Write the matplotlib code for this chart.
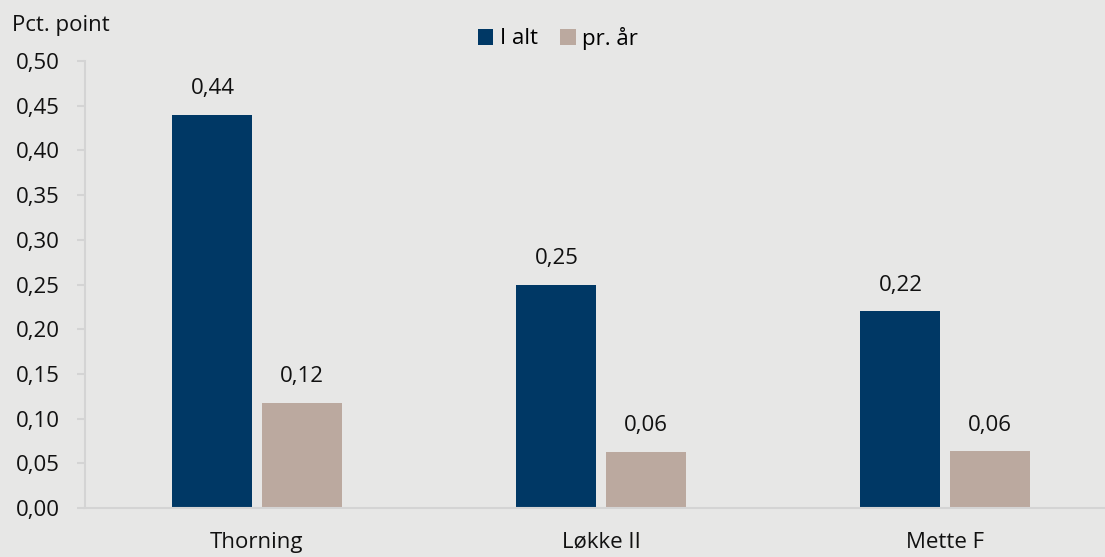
import matplotlib.pyplot as plt
import numpy as np

categories = ["Thorning", "Løkke II", "Mette F"]
i_alt = [0.44, 0.25, 0.22]
pr_aar = [0.118, 0.063, 0.064]
series_names = ["I alt", "pr. år"]
y_ticks = [0.0, 0.05, 0.10, 0.15, 0.20, 0.25, 0.30, 0.35, 0.40, 0.45, 0.50]

bg = "#e7e7e6"
dark = "#003865"
light = "#bba99f"
axis_grey = "#d4d4d4"
txt = "#111111"
fs = 16

plt.rcParams['font.family'] = ['Open Sans', 'DejaVu Sans']

fig = plt.figure(figsize=(11.05, 5.57), dpi=100, facecolor=bg)
# axes spans past the right edge, as the category band continues off-canvas
ax = fig.add_axes([85 / 1105, 49 / 557, 1032 / 1105, 447 / 557])
ax.set_facecolor(bg)

x = np.arange(len(categories))
w = 0.2326
off = 0.1294
b1 = ax.bar(x - off, i_alt, w, color=dark, label=series_names[0])
b2 = ax.bar(x + off, pr_aar, w, color=light, label=series_names[1])

fmt = lambda v: f"{v:.2f}".replace(".", ",")
for bars, vals in ((b1, i_alt), (b2, pr_aar)):
    for r, v in zip(bars, vals):
        ax.annotate(fmt(v), (r.get_x() + r.get_width() / 2, v),
                    xytext=(0, 11), textcoords="offset points",
                    ha="center", va="bottom", fontsize=fs, color=txt)

ax.set_xlim(-0.5, 2.5)
ax.set_ylim(0, 0.5)
ax.set_yticks(y_ticks)
ax.set_yticklabels([fmt(t) for t in y_ticks])
ax.set_xticks(x)
ax.set_xticklabels(categories)

for s in ("top", "right"):
    ax.spines[s].set_visible(False)
for s in ("left", "bottom"):
    ax.spines[s].set_color(axis_grey)
    ax.spines[s].set_linewidth(1.5)

ax.tick_params(axis="y", length=6, width=1.5, color=axis_grey, pad=12,
               labelsize=fs, labelcolor=txt)
ax.tick_params(axis="x", length=0, pad=17, labelsize=fs, labelcolor=txt)

fig.text(12 / 1105, 1 - 25 / 557, "Pct. point", fontsize=fs, color=txt,
         ha="left", va="center")

fig.legend(loc="center", bbox_to_anchor=(558 / 1105, 1 - 38 / 557), ncol=2,
           frameon=False, fontsize=fs, handlelength=0.7, handleheight=0.7,
           handletextpad=0.3, columnspacing=1.0)

fig.savefig("out.png", dpi=100, facecolor=bg)
